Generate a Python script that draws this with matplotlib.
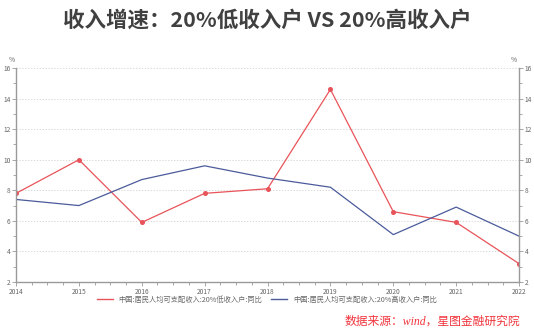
import numpy as np
import matplotlib.pyplot as plt
from matplotlib.lines import Line2D
from matplotlib.ticker import MultipleLocator

plt.rcParams['font.family'] = ['Noto Sans CJK SC', 'DejaVu Sans']

# 收入增速数据 (%)
years = [2014, 2015, 2016, 2017, 2018, 2019, 2020, 2021, 2022]
low_income = [7.8, 10.0, 5.9, 7.8, 8.1, 14.6, 6.6, 5.9, 3.2]
high_income = [7.4, 7.0, 8.7, 9.6, 8.8, 8.2, 5.1, 6.9, 5.0]
low_label = '中国:居民人均可支配收入:20%低收入户:同比'
high_label = '中国:居民人均可支配收入:20%高收入户:同比'

red = '#e8545a'
blue = '#4b5b9b'
axis_gray = '#9a9a9a'
text_gray = '#666666'

fig = plt.figure(figsize=(5.34, 3.32), dpi=100)
ax = fig.add_axes([0.030, 0.1506, 0.942, 0.6446])

ax.plot(years, low_income, color=red, lw=0.9, marker='o', ms=2.6)
ax.plot(years, high_income, color=blue, lw=0.9)

ax.set_xlim(2014, 2022)
ax.set_ylim(2, 16)
ax.yaxis.set_major_locator(MultipleLocator(2))
ax.yaxis.set_minor_locator(MultipleLocator(1))
ax.xaxis.set_major_locator(MultipleLocator(1))
ax.xaxis.set_minor_locator(MultipleLocator(0.25))
ax.grid(axis='y', which='major', ls=(0, (1.5, 2)), color='#d0d0d0', lw=0.6)

ax.tick_params(axis='both', which='both', colors=axis_gray, labelcolor=text_gray,
               labelsize=4.8, width=0.6)
ax.tick_params(axis='both', which='major', length=3, pad=1)
ax.tick_params(axis='both', which='minor', length=2)
ax.tick_params(axis='y', which='both', right=True, labelright=True)

for side in ['left', 'right', 'bottom']:
    ax.spines[side].set_color(axis_gray)
    ax.spines[side].set_linewidth(1.0)
ax.spines['top'].set_visible(False)

ax.text(-0.003, 1.03, '%', transform=ax.transAxes, fontsize=4.8, color=text_gray, ha='right')
ax.text(0.995, 1.03, '%', transform=ax.transAxes, fontsize=4.8, color=text_gray, ha='right')

fig.text(0.5, 0.94, '收入增速：20%低收入户 VS 20%高收入户', ha='center', va='center',
         fontsize=15.5, fontweight='bold', color='#404040')

# legend shows plain line swatches
handles = [Line2D([], [], color=red, lw=1.0), Line2D([], [], color=blue, lw=1.0)]
fig.legend(handles, [low_label, high_label], loc='center', bbox_to_anchor=(0.5, 0.097),
           ncol=2, frameon=False, fontsize=5.2, handlelength=2.2, columnspacing=1.2,
           labelcolor=text_gray)

fig.text(0.975, 0.03, '数据来源：wind，星图金融研究院', ha='right', va='center',
         fontsize=8.5, color='#f0343c', style='italic',
         family=['Liberation Serif', 'Noto Sans CJK SC'])

fig.savefig('out.png', dpi=100, facecolor='white')
